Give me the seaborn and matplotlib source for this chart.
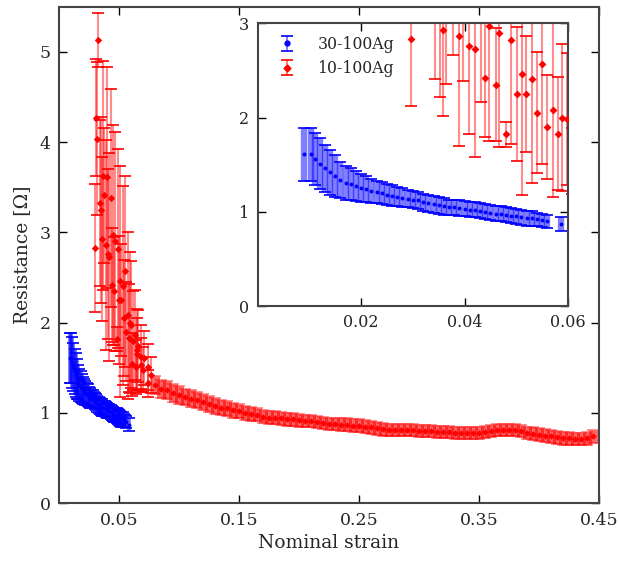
import numpy as np
import matplotlib
matplotlib.use("Agg")
import matplotlib.pyplot as plt
from matplotlib.lines import Line2D
from matplotlib.collections import LineCollection
from matplotlib.container import ErrorbarContainer
import seaborn as sns

# 30-100Ag sample
blue_x = [0.0090, 0.0103, 0.011, 0.012, 0.013, 0.014, 0.015, 0.016, 0.017, 0.018,
          0.019, 0.020, 0.021, 0.022, 0.023, 0.024, 0.025, 0.026, 0.027, 0.028,
          0.029, 0.030, 0.031, 0.032, 0.033, 0.034, 0.035, 0.036, 0.037, 0.038,
          0.039, 0.040, 0.041, 0.042, 0.043, 0.044, 0.045, 0.046, 0.047, 0.048,
          0.049, 0.050, 0.051, 0.052, 0.053, 0.054, 0.055, 0.056, 0.0586]
blue_y = [1.61, 1.61, 1.56, 1.51, 1.46, 1.42, 1.38, 1.34, 1.31, 1.29,
          1.27, 1.25, 1.24, 1.22, 1.21, 1.20, 1.18, 1.17, 1.16, 1.15,
          1.14, 1.13, 1.12, 1.10, 1.09, 1.08, 1.07, 1.06, 1.05, 1.05,
          1.04, 1.03, 1.02, 1.02, 1.01, 1.00, 0.99, 0.98, 0.98, 0.97,
          0.96, 0.95, 0.94, 0.93, 0.93, 0.92, 0.91, 0.90, 0.87]
blue_err = [0.28, 0.28, 0.28, 0.27, 0.25, 0.24, 0.22, 0.19, 0.18, 0.17,
            0.16, 0.15, 0.14, 0.13, 0.12, 0.12, 0.11, 0.11, 0.10, 0.10,
            0.09, 0.09, 0.09, 0.09, 0.09, 0.09, 0.09, 0.09, 0.08, 0.08,
            0.08, 0.08, 0.08, 0.08, 0.08, 0.08, 0.08, 0.08, 0.08, 0.08,
            0.08, 0.08, 0.08, 0.08, 0.08, 0.07, 0.07, 0.07, 0.07]

# 10-100Ag sample, scattered start of the curve
red_x = [0.0297, 0.0306, 0.0319, 0.0325, 0.0342, 0.0353, 0.0358, 0.0364, 0.0378, 0.0389,
         0.0397, 0.0409, 0.0420, 0.0431, 0.0440, 0.0447, 0.0460, 0.0467, 0.0480, 0.0489,
         0.0502, 0.0511, 0.0519, 0.0530, 0.0541, 0.0549, 0.0559, 0.0571, 0.0580, 0.0588,
         0.0599, 0.0608, 0.0619, 0.0633, 0.0642, 0.0647, 0.0653, 0.0661, 0.0681, 0.0683,
         0.0703, 0.0708, 0.0739, 0.0744, 0.0767]
red_y = [2.83, 4.27, 4.04, 5.13, 3.33, 3.25, 2.93, 3.63, 3.41, 2.86,
         3.61, 2.76, 2.73, 3.38, 2.42, 2.97, 2.35, 2.90, 1.82, 2.82,
         2.25, 2.46, 2.25, 2.41, 2.05, 2.57, 1.90, 2.08, 1.83, 2.00,
         1.98, 1.54, 1.80, 1.86, 1.51, 1.65, 1.70, 1.74, 1.62, 1.53,
         1.48, 1.61, 1.33, 1.51, 1.42]
red_err = [0.71, 0.65, 0.85, 0.30, 0.92, 1.03, 0.91, 1.27, 0.75, 1.16,
           1.22, 0.94, 1.15, 1.21, 0.63, 1.22, 0.60, 1.21, 0.13, 1.10,
           0.71, 1.28, 0.62, 1.10, 0.64, 1.06, 0.55, 0.92, 0.60, 0.78,
           0.70, 0.35, 0.55, 0.50, 0.30, 0.40, 0.45, 0.40, 0.35, 0.30,
           0.25, 0.30, 0.15, 0.25, 0.20]

# 10-100Ag sample, dense tail
tail_x = [0.080, 0.085, 0.090, 0.095, 0.100, 0.105, 0.110, 0.115, 0.120, 0.125,
          0.130, 0.135, 0.140, 0.145, 0.150, 0.155, 0.160, 0.165, 0.170, 0.175,
          0.180, 0.185, 0.190, 0.195, 0.200, 0.205, 0.210, 0.215, 0.220, 0.225,
          0.230, 0.235, 0.240, 0.245, 0.250, 0.255, 0.260, 0.265, 0.270, 0.275,
          0.280, 0.285, 0.290, 0.295, 0.300, 0.305, 0.310, 0.315, 0.320, 0.325,
          0.330, 0.335, 0.340, 0.345, 0.350, 0.355, 0.360, 0.365, 0.370, 0.375,
          0.380, 0.385, 0.390, 0.395, 0.400, 0.405, 0.410, 0.415, 0.420, 0.425,
          0.430, 0.435, 0.440, 0.445]
tail_y = [1.31, 1.27, 1.25, 1.22, 1.20, 1.18, 1.16, 1.14, 1.12, 1.10,
          1.08, 1.06, 1.05, 1.03, 1.02, 1.00, 0.99, 0.98, 0.96, 0.95,
          0.95, 0.94, 0.93, 0.93, 0.92, 0.91, 0.91, 0.90, 0.89, 0.88,
          0.88, 0.87, 0.87, 0.86, 0.86, 0.85, 0.84, 0.83, 0.82, 0.81,
          0.81, 0.81, 0.81, 0.81, 0.80, 0.80, 0.80, 0.79, 0.79, 0.79,
          0.78, 0.78, 0.78, 0.78, 0.78, 0.79, 0.80, 0.81, 0.81, 0.81,
          0.81, 0.80, 0.78, 0.77, 0.76, 0.75, 0.74, 0.73, 0.72, 0.72,
          0.71, 0.71, 0.72, 0.74]
tail_err = [0.10, 0.10, 0.10, 0.10, 0.10, 0.09, 0.09, 0.09, 0.09, 0.09,
            0.09, 0.08, 0.08, 0.08, 0.08, 0.08, 0.08, 0.07, 0.07, 0.07,
            0.07, 0.07, 0.07, 0.07, 0.07, 0.07, 0.07, 0.07, 0.07, 0.07,
            0.07, 0.07, 0.07, 0.07, 0.07, 0.07, 0.07, 0.07, 0.07, 0.07,
            0.07, 0.07, 0.07, 0.07, 0.07, 0.07, 0.07, 0.07, 0.07, 0.07,
            0.07, 0.07, 0.07, 0.07, 0.07, 0.07, 0.07, 0.07, 0.07, 0.07,
            0.07, 0.07, 0.07, 0.07, 0.07, 0.07, 0.07, 0.07, 0.07, 0.07,
            0.07, 0.07, 0.07, 0.07]

main_xticks = [0.05, 0.15, 0.25, 0.35, 0.45]
main_yticks = [0, 1, 2, 3, 4, 5]
inset_xticks = [0.02, 0.04, 0.06]
inset_yticks = [0, 1, 2, 3]
labels = ["30-100Ag", "10-100Ag"]

sns.set_theme(style="ticks")
plt.rcParams["font.family"] = ["DejaVu Serif"]

BLUE = (0, 0, 1)
RED = (1, 0, 0)


def draw_bars(ax, x, y, err, color, lw, alpha, cap_alpha=1.0):
    eb = ax.errorbar(x, y, yerr=err, fmt="none", ecolor=color, elinewidth=lw,
                     capsize=4.3, capthick=1.2, zorder=2)
    eb[2][0].set_alpha(alpha)
    for cap in eb[1]:
        cap.set_alpha(cap_alpha)
    return eb


def legend_handle(color, marker):
    # thin error bar with caps plus a marker, for the legend only
    cap = Line2D([], [], color=color, marker="_", markersize=8.6,
                 markeredgewidth=1.2, ls="none")
    bar = LineCollection([], colors=[color], linewidths=1.5, alpha=0.5)
    eb = ErrorbarContainer((None, (cap, cap), (bar,)), has_xerr=False, has_yerr=True)
    mk = Line2D([], [], ls="none", marker=marker, color=color, markersize=3.5)
    return (eb, mk)


def style_axes(ax, xticks, yticks, size):
    for s in ax.spines.values():
        s.set_color("#444444")
        s.set_linewidth(1.5)
    ax.set_xticks(xticks)
    ax.set_yticks(yticks)
    ax.tick_params(direction="in", top=True, right=True, length=6, width=1,
                   color="black", labelsize=size, pad=6)


fig = plt.figure(figsize=(6.19, 5.61), dpi=100)
ax = fig.add_axes([0.0953, 0.1029, 0.8724, 0.8851])
ins = fig.add_axes([0.4163, 0.4545, 0.5013, 0.504])

# main panel
draw_bars(ax, blue_x, blue_y, blue_err, BLUE, 2.6, 0.6)
draw_bars(ax, red_x, red_y, red_err, RED, 1.5, 0.45)
draw_bars(ax, tail_x, tail_y, tail_err, RED, 6.5, 0.6, cap_alpha=0.5)
sns.scatterplot(x=blue_x, y=blue_y, ax=ax, color=BLUE, marker="o", s=8,
                linewidth=0, legend=False, zorder=3)
sns.scatterplot(x=red_x, y=red_y, ax=ax, color=RED, marker="D", s=14,
                linewidth=0, legend=False, zorder=3)
sns.scatterplot(x=tail_x, y=tail_y, ax=ax, color=RED, marker="D", s=11,
                linewidth=0, legend=False, zorder=3)
ax.set_xlim(0, 0.45)
ax.set_ylim(0, 5.5)
style_axes(ax, main_xticks, main_yticks, 12.5)
ax.set_xticklabels(["0.05", "0.15", "0.25", "0.35", "0.45"])
ax.set_xlabel("Nominal strain", fontsize=13.5)
ax.set_ylabel("Resistance [\u03a9]", fontsize=13.5, labelpad=6)

# inset
draw_bars(ins, blue_x, blue_y, blue_err, BLUE, 4.6, 0.5)
draw_bars(ins, red_x, red_y, red_err, RED, 1.5, 0.45)
sns.scatterplot(x=blue_x, y=blue_y, ax=ins, color=BLUE, marker="o", s=8,
                linewidth=0, legend=False, zorder=3)
sns.scatterplot(x=red_x, y=red_y, ax=ins, color=RED, marker="D", s=16,
                linewidth=0, legend=False, zorder=3)
ins.set_xlim(0, 0.06)
ins.set_ylim(0, 3)
style_axes(ins, inset_xticks, inset_yticks, 11.5)
ins.set_xticklabels(["0.02", "0.04", "0.06"])

ins.legend([legend_handle(BLUE, "o"), legend_handle(RED, "D")], labels,
           loc="upper left", bbox_to_anchor=(0.02, 1.005), frameon=False,
           fontsize=11.3, handlelength=1.2, handletextpad=1.3, labelspacing=0.45)

fig.savefig("out.png", dpi=100)
